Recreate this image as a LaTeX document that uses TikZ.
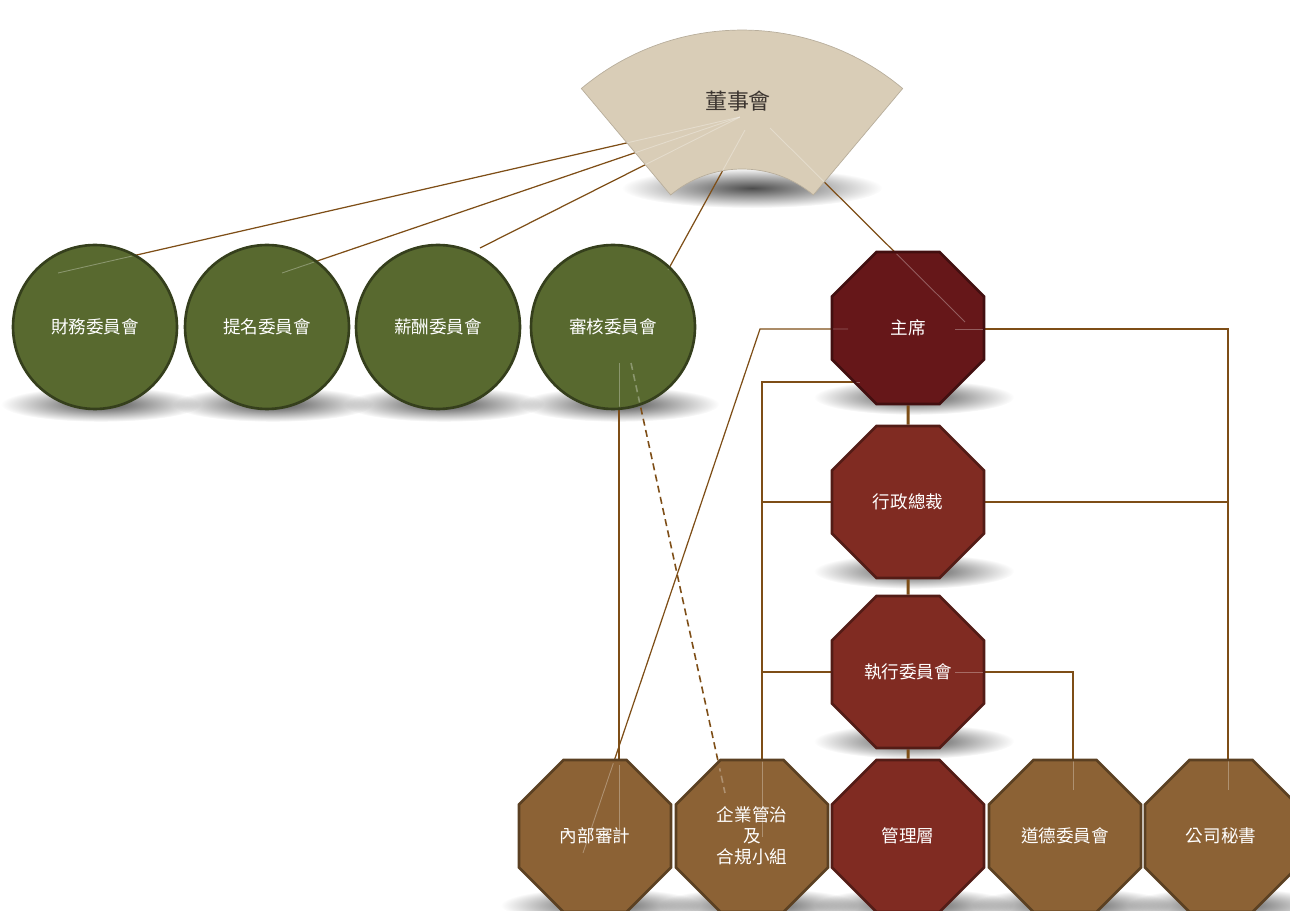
\documentclass[tikz,border=0pt]{standalone}
\usepackage{fontspec}
\newfontfamily\cjk{Noto Sans CJK TC}
\usetikzlibrary{calc, shapes.geometric, backgrounds, fadings}

\definecolor{boardbeige}{HTML}{D9CDB7}
\definecolor{boardtext}{HTML}{3C3530}
\definecolor{commgreen}{HTML}{58692F}
\definecolor{chairred}{HTML}{661719}
\definecolor{execred}{HTML}{802B22}
\definecolor{unitbrown}{HTML}{8C6235}
\definecolor{linkbrown}{HTML}{7E4E17}

\tikzfading[name=softshadow, inner color=transparent!30, outer color=transparent!100]

\tikzset{
  committee/.style={circle, draw=commgreen!60!black, line width=1.5pt, fill=commgreen,
    minimum size=3.28cm, inner sep=0pt, text=white, font=\cjk\fontsize{10}{12}\selectfont},
  officer/.style={regular polygon, regular polygon sides=8, draw=#1!65!black, line width=1.5pt,
    fill=#1, minimum size=3.29cm, inner sep=0pt, text=white, align=center,
    font=\cjk\fontsize{10}{12}\selectfont},
  link/.style={draw=linkbrown, line width=0.7pt},
  ghost/.style={draw=white, opacity=0.3, line width=0.5pt},
  groundshadow/.style={fill=black, path fading=softshadow},
}

% thin lines, drawn once behind the shapes and once light on top of them
\newcommand{\boardlinks}[1]{%
  \foreach \cname in {fin,nom,rem} \draw[#1] (\cname-hook) -- (board-hub);
  \draw[#1] (ac-hook) -- (board-foot);
  \draw[#1] (chair-hook) -- (board-tail);
  \draw[#1] (ac-drop) -- (ia-top);
  \draw[#1, line width=0.9pt, dash pattern=on 4pt off 2.5pt] (ac-dash) -- (cg-hook);
  \draw[#1] (chair-left) -- (ia-bend) -- (ia-hook);
  \draw[#1] (chair-low) -| (cg-top);
  \draw[#1] (chair-right) -| (cs-hook);
  \draw[#1] (exco-hook) -| (ethics-hook);
}

\begin{document}
\begin{tikzpicture}[x=0.02cm, y=-0.02cm]
\useasboundingbox (0,0) rectangle (1290,911);

% board of directors
\coordinate (fan-apex) at (742,280);
\path[fill=boardbeige, draw=boardbeige!85!black, line width=0.4pt]
  ($(fan-apex)+(50:5cm)$) arc[start angle=50, end angle=130, radius=5cm]
  -- ($(fan-apex)+(130:2.22cm)$) arc[start angle=130, end angle=50, radius=2.22cm] -- cycle;
\node[font=\cjk\fontsize{12.5}{14}\selectfont, text=boardtext] (board) at (738,101) {董事會};

% committees
\node[committee] (fin) at (95,327) {財務委員會};
\node[committee] (nom) at (267,327) {提名委員會};
\node[committee] (rem) at (438,327) {薪酬委員會};
\node[committee] (ac) at (613,327) {審核委員會};

% management
\node[officer=chairred] (chair) at (908,328) {主席};
\node[officer=execred] (ceo) at (908,502) {行政總裁};
\node[officer=execred] (exco) at (908,672) {執行委員會};
\node[officer=execred] (mgmt) at (908,836) {管理層};
\node[officer=unitbrown] (ia) at (595,836) {內部審計};
\node[officer=unitbrown] (cg) at (752,836) {企業管治\\及\\合規小組};
\node[officer=unitbrown] (ethics) at (1065,836) {道德委員會};
\node[officer=unitbrown] (cs) at (1221,836) {公司秘書};

% line ends
\coordinate (board-hub) at ($(board)+(2,16)$);
\coordinate (board-foot) at ($(board)+(7,29)$);
\coordinate (board-tail) at ($(board)+(32,27)$);
\coordinate (fin-hook) at ($(fin)+(-37,-54)$);
\coordinate (nom-hook) at ($(nom)+(15,-54)$);
\coordinate (rem-hook) at ($(rem)+(42,-79)$);
\coordinate (ac-hook) at ($(ac)+(55,-57)$);
\coordinate (ac-drop) at ($(ac)+(6,36)$);
\coordinate (ac-dash) at ($(ac)+(18,36)$);
\coordinate (chair-hook) at ($(chair)+(57,-6)$);
\coordinate (chair-left) at ($(chair)+(-60,1)$);
\coordinate (chair-right) at ($(chair)+(47,1)$);
\coordinate (chair-low) at ($(chair)+(-48,54)$);
\coordinate (ia-bend) at ($(chair)+(-148,1)$);
\coordinate (exco-hook) at ($(exco)+(47,0)$);
\coordinate (ia-hook) at ($(ia)+(-12,17)$);
\coordinate (ia-top) at ($(ia)+(24,1)$);
\coordinate (cg-hook) at ($(cg)+(-27,-43)$);
\coordinate (cg-top) at ($(cg)+(10,1)$);
\coordinate (ethics-hook) at ($(ethics)+(8,-46)$);
\coordinate (cs-hook) at ($(cs)+(7,-46)$);

\begin{pgfonlayer}{background}
  \fill[groundshadow] ($(fan-apex)+(10,-92)$) ellipse[x radius=2.6cm, y radius=0.4cm];
  \foreach \n in {fin,nom,rem,ac}
    \fill[groundshadow] ($(\n.south)+(6,-6)$) ellipse[x radius=2cm, y radius=0.35cm];
  \foreach \n in {chair,ceo,exco,ia,cg,mgmt,ethics,cs}
    \fill[groundshadow] ($(\n.south)+(6,-8)$) ellipse[x radius=2cm, y radius=0.35cm];
  \boardlinks{link}
  \draw[link, line width=1.1pt] (ceo.west) -- (ceo.west -| cg-top);
  \draw[link, line width=1.1pt] (exco.west) -- (exco.west -| cg-top);
  \draw[link, line width=1.1pt] (ceo.east) -- (ceo.east -| cs-hook);
  \draw[link, line width=1.7pt] (chair) -- (ceo) -- (exco) -- (mgmt);
\end{pgfonlayer}

% light parts of the lines inside the shapes
\begin{scope}
  \clip ($(fan-apex)+(50:5cm)$) arc[start angle=50, end angle=130, radius=5cm]
    -- ($(fan-apex)+(130:2.22cm)$) arc[start angle=130, end angle=50, radius=2.22cm] -- cycle
    \foreach \n in {fin,nom,rem,ac} { (\n) circle[radius=1.6cm] }
    \foreach \n in {chair,ceo,exco,ia,cg,mgmt,ethics,cs} { (\n) circle[radius=1.5cm] };
  \boardlinks{ghost}
\end{scope}
\end{tikzpicture}
\end{document}
